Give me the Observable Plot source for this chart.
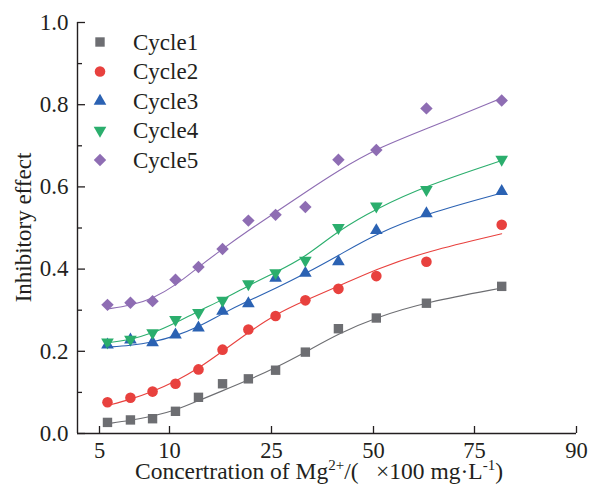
<!DOCTYPE html>
<html><head><meta charset="utf-8">
<script src="https://cdn.jsdelivr.net/npm/d3@7"></script>
<script src="https://cdn.jsdelivr.net/npm/@observablehq/plot@0.6"></script>
<style>
html,body{margin:0;padding:0;background:#fff;overflow:hidden;}
#chart{position:relative;width:595px;height:490px;}
</style></head><body><div id="chart"></div>
<script>
// Mg2+ concentration (x100 mg/L)
const concentration = [5.57, 7.21, 8.79, 10.88, 14.26, 17.8, 21.6, 26.0, 33.3, 41.4, 50.7, 63.1, 79.0];
const cycleNames = ["Cycle1", "Cycle2", "Cycle3", "Cycle4", "Cycle5"];
// measured inhibitory effect
const cycle1 = [0.027, 0.033, 0.036, 0.054, 0.088, 0.121, 0.133, 0.154, 0.198, 0.255, 0.281, 0.317, 0.358];
const cycle2 = [0.076, 0.087, 0.102, 0.121, 0.156, 0.204, 0.253, 0.286, 0.324, 0.352, 0.383, 0.418, 0.508];
const cycle3 = [0.216, 0.228, 0.221, 0.240, 0.257, 0.298, 0.316, 0.378, 0.390, 0.418, 0.494, 0.535, 0.589];
const cycle4 = [0.222, 0.229, 0.245, 0.277, 0.294, 0.324, 0.364, 0.391, 0.421, 0.501, 0.553, 0.593, 0.667];
const cycle5 = [0.313, 0.318, 0.322, 0.374, 0.405, 0.449, 0.518, 0.532, 0.551, 0.666, 0.690, 0.791, 0.810];
// fitted curves, read at the same concentrations
const fit1 = [0.024, 0.032, 0.042, 0.056, 0.080, 0.104, 0.130, 0.160, 0.198, 0.243, 0.283, 0.320, 0.354];
const fit2 = [0.068, 0.083, 0.102, 0.127, 0.158, 0.200, 0.246, 0.290, 0.324, 0.358, 0.400, 0.443, 0.486];
const fit3 = [0.210, 0.214, 0.222, 0.237, 0.259, 0.292, 0.323, 0.353, 0.389, 0.433, 0.486, 0.535, 0.585];
const fit4 = [0.221, 0.228, 0.244, 0.269, 0.298, 0.325, 0.360, 0.392, 0.429, 0.494, 0.547, 0.603, 0.664];
const fit5 = [0.303, 0.311, 0.328, 0.360, 0.405, 0.449, 0.494, 0.538, 0.587, 0.640, 0.693, 0.741, 0.816];
const xTickValues = [5, 10, 25, 50, 75, 90];
const yTickValues = [0, 0.2, 0.4, 0.6, 0.8, 1.0];
const yMinorTickValues = [0.1, 0.3, 0.5, 0.7, 0.9];

const measured = [cycle1, cycle2, cycle3, cycle4, cycle5];
const fitted = [fit1, fit2, fit3, fit4, fit5];
const colors = ["#6d6e72", "#e8413e", "#2b62b3", "#2bae6d", "#8e6db3"];

const sqrt3 = Math.sqrt(3);
const triUp = {draw(ctx, size) {
  const y = Math.sqrt(size / (sqrt3 * 3));
  ctx.moveTo(0, -2 * y); ctx.lineTo(sqrt3 * y, y); ctx.lineTo(-sqrt3 * y, y); ctx.closePath();
}};
const triDown = {draw(ctx, size) {
  const y = Math.sqrt(size / (sqrt3 * 3));
  ctx.moveTo(0, 2 * y); ctx.lineTo(sqrt3 * y, -y); ctx.lineTo(-sqrt3 * y, -y); ctx.closePath();
}};
const symbols = ["square", "circle", triUp, triDown, "diamond2"];
const d3symbols = [d3.symbolSquare, d3.symbolCircle, triUp, triDown, d3.symbolDiamond2];
const radii = [5.3, 5.3, 4.7, 4.7, 5.6];

const series = cycleNames.map((name, i) => ({
  name,
  points: concentration.map((c, j) => ({c, v: measured[i][j]})),
  curve: concentration.map((c, j) => ({c, v: fitted[i][j]}))
}));

const font = "Liberation Serif, Times New Roman, serif";
const axisColor = "#231f20";
const W = 595, H = 490, mL = 77, mR = 19, mT = 22, mB = 57;
const innerW = W - mL - mR, innerH = H - mT - mB;

const marks = [];
series.forEach((s, i) => {
  marks.push(Plot.dot(s.points, {x: "c", y: "v", symbol: () => symbols[i], r: radii[i], fill: colors[i], stroke: "none"}));
});
series.forEach((s, i) => {
  marks.push(Plot.line(s.curve, {x: "c", y: "v", stroke: colors[i], strokeWidth: 1.1, curve: "basis"}));
});

const plot = Plot.plot({
  width: W, height: H,
  marginLeft: mL, marginRight: mR, marginTop: mT, marginBottom: mB,
  style: {fontFamily: font, fontSize: "23px", color: axisColor, background: "white"},
  x: {type: "linear", domain: [3.43, 5, 10, 25, 50, 75, 90], range: [77, 99, 169, 271, 373, 474, 576]},
  y: {domain: [0, 1]},
  symbol: {type: "identity"},
  marks: [
    Plot.axisX({ticks: xTickValues, tickSize: 0, tickPadding: 9, label: null, fontSize: 22.5, fontFamily: font}),
    Plot.axisY({ticks: yTickValues, tickSize: 0, tickPadding: 9, tickFormat: d3.format(".1f"), label: null, fontSize: 23, fontFamily: font}),
    Plot.tickX(xTickValues, {x: d => d, stroke: axisColor, strokeWidth: 1.3, insetTop: innerH - 7}),
    Plot.tickY(yTickValues, {y: d => d, stroke: axisColor, strokeWidth: 1.3, insetRight: innerW - 8}),
    Plot.tickY(yMinorTickValues, {y: d => d, stroke: axisColor, strokeWidth: 1.3, insetRight: innerW - 5}),
    Plot.ruleY([0], {stroke: axisColor, strokeWidth: 1.4}),
    Plot.ruleX([3.43], {stroke: axisColor, strokeWidth: 1.4}),
    ...marks
  ]
});

const svg = d3.select(plot);
// legend
const lg = svg.append("g").attr("font-family", font).attr("font-size", 23).attr("fill", axisColor).attr("text-anchor", "start");
cycleNames.forEach((name, i) => {
  const gy = 42 + i * 29.5;
  lg.append("path")
    .attr("transform", `translate(100,${gy})`)
    .attr("d", d3.symbol(d3symbols[i], Math.PI * radii[i] * radii[i])())
    .attr("fill", colors[i]);
  lg.append("text").attr("x", 133).attr("y", gy).attr("dy", "0.33em").text(name);
});
// axis titles
const xt = svg.append("text").attr("font-family", font).attr("font-size", 23.5).attr("fill", axisColor)
  .attr("x", 319).attr("y", 479).attr("text-anchor", "middle").style("white-space", "pre");
xt.append("tspan").text("Concertration of Mg");
xt.append("tspan").attr("font-size", 15).attr("dy", -9).text("2+");
xt.append("tspan").attr("dy", 9).text("/(\u2002 \u00d7100 mg\u00b7L");
xt.append("tspan").attr("font-size", 15).attr("dy", -9).text("-1");
xt.append("tspan").attr("dy", 9).text(")");
svg.append("text").attr("font-family", font).attr("font-size", 23).attr("fill", axisColor)
  .attr("text-anchor", "middle").attr("transform", "translate(31,227.5) rotate(-90)")
  .text("Inhibitory effect");

document.getElementById("chart").appendChild(plot);
</script>
</body></html>
